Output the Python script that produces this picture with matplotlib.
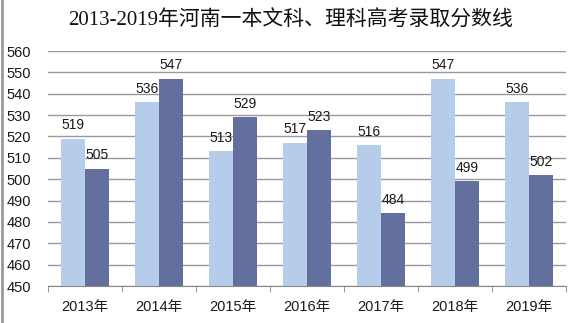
import matplotlib
matplotlib.use("Agg")
import matplotlib.pyplot as plt
import numpy as np

# 河南一本录取分数线
years = ["2013年", "2014年", "2015年", "2016年", "2017年", "2018年", "2019年"]
wenke = [519, 536, 513, 517, 516, 547, 536]   # 文科
like = [505, 547, 529, 523, 484, 499, 502]    # 理科
yticks = list(range(450, 561, 10))

plt.rcParams['font.family'] = ['Liberation Sans', 'Noto Sans CJK SC']

fig = plt.figure(figsize=(5.75, 3.23), dpi=100)
ax = fig.add_axes([48/575, 1 - 286/323, 518/575, (286 - 51)/323])

x = np.arange(len(years))
w = 0.325
b1 = ax.bar(x - w/2, np.array(wenke) - 450, w, bottom=450, color="#b5cdeb", zorder=2)
b2 = ax.bar(x + w/2, np.array(like) - 450, w, bottom=450, color="#636f9d", zorder=2)

for xi, v in zip(x, wenke):
    ax.text(xi - w/2, v + 3, str(v), ha="center", va="bottom", fontsize=10, color="#1a1a1a")
for xi, v in zip(x, like):
    ax.text(xi + w/2, v + 3, str(v), ha="center", va="bottom", fontsize=10, color="#1a1a1a")

ax.set_xlim(-0.5, len(years) - 0.5)
ax.set_ylim(450, 560)
ax.set_yticks(yticks)
ax.set_yticklabels([str(t) for t in yticks], fontsize=10.5, color="#1a1a1a")
ax.set_xticks(x)
ax.set_xticklabels(years, fontsize=10.5, color="#1a1a1a")
ax.set_xticks(np.arange(-0.5, len(years)), minor=True)
ax.tick_params(axis="x", which="major", length=0, pad=10)
ax.tick_params(axis="x", which="minor", length=4, color="#888888")
ax.tick_params(axis="y", length=0, pad=12)
ax.grid(axis="y", color="#9a9a9a", linewidth=1, zorder=0)
for s in ["top", "right", "left"]:
    ax.spines[s].set_visible(False)
ax.spines["bottom"].set_color("#888888")

fig.text(0.505, 0.935, "2013-2019年河南一本文科、理科高考录取分数线", ha="center", va="center",
         fontsize=15, fontweight="medium", family=['Liberation Serif', 'Noto Sans CJK SC'], color="#111111")

# left border of the picture
fig.add_artist(plt.Line2D([0.003, 0.003], [0, 1], transform=fig.transFigure, color="#999999", linewidth=2))

fig.savefig("out.png", dpi=100)
